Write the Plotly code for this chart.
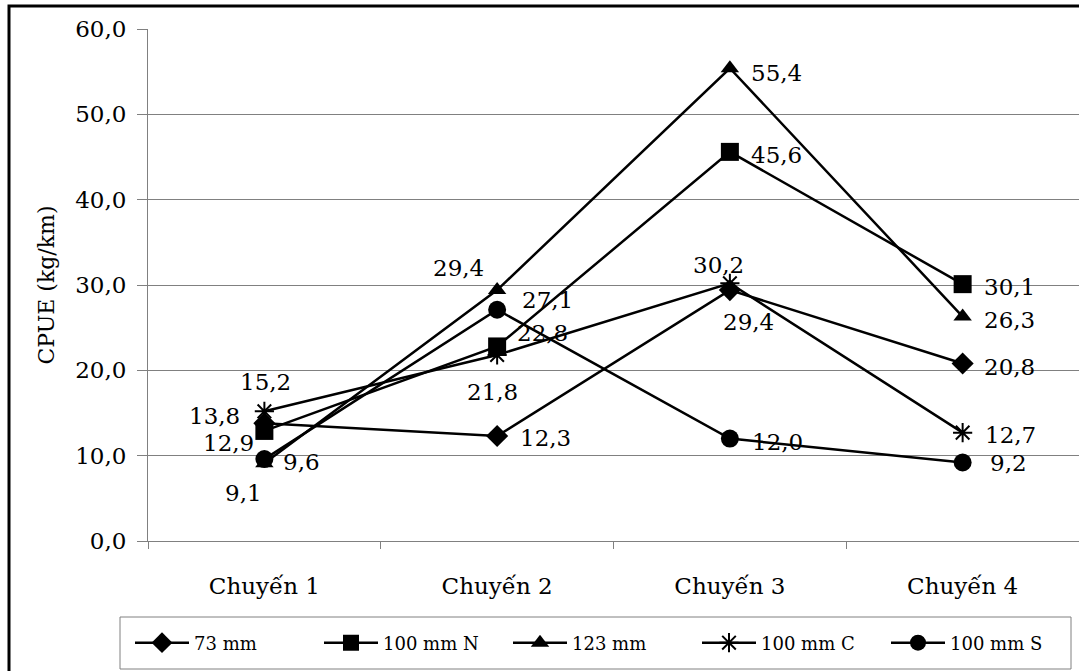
import plotly.graph_objects as go

categories = ["Chuyến 1", "Chuyến 2", "Chuyến 3", "Chuyến 4"]
series_names = ["73 mm", "100 mm N", "123 mm", "100 mm C", "100 mm S"]
v_73 = [13.8, 12.3, 29.4, 20.8]
v_100n = [12.9, 22.8, 45.6, 30.1]
v_123 = [9.1, 29.4, 55.4, 26.3]
v_100c = [15.2, 21.8, 30.2, 12.7]
v_100s = [9.6, 27.1, 12.0, 9.2]
y_ticks = [0, 10, 20, 30, 40, 50, 60]

series_values = [v_73, v_100n, v_123, v_100c, v_100s]
symbols = ["diamond", "square", "triangle-up", "asterisk-open", "circle"]
sizes = [17, 18, 16, 16, 18]
# label offsets from each point (pixels: right, down)
label_offsets = [
    [(-50, -7), (48, 2), (19, 32), (47, 3)],
    [(-36, 12), (45, -13), (47, 3), (47, 3)],
    [(-21, 30), (-39, -22), (47, 5), (47, 3)],
    [(1, -29), (-5, 37), (-11, -18), (48, 2)],
    [(37, 3), (50, -10), (48, 3), (46, 1)],
]

SERIF = "DejaVu Serif"

fig = go.Figure()
annotations = []
for name, vals, sym, sz, offs in zip(series_names, series_values, symbols, sizes, label_offsets):
    fig.add_trace(go.Scatter(
        x=categories, y=vals, name=name, mode="lines+markers",
        line=dict(color="black", width=2.5),
        marker=dict(symbol=sym, size=sz, color="black",
                    line=dict(color="black", width=2 if sym.startswith("asterisk") else 0)),
        cliponaxis=False,
    ))
    for cat, v, (dx, dy) in zip(categories, vals, offs):
        annotations.append(dict(
            x=cat, y=v, xref="x", yref="y", text=f"{v:.1f}".replace(".", ","),
            showarrow=False, xanchor="center", yanchor="middle",
            xshift=dx, yshift=-dy,
            font=dict(family=SERIF, size=23, color="black"),
        ))

L, R, T, B = 148, 0, 29, 130
W, H = 1079, 671
pw, ph = W - L - R, H - T - B


def px_x(px):
    return (px - L) / pw


def px_y(py):
    return (H - B - py) / ph


fig.update_layout(
    width=W, height=H,
    margin=dict(l=L, r=R, t=T, b=B),
    paper_bgcolor="white", plot_bgcolor="white",
    separators=",.",
    font=dict(family=SERIF, color="black"),
    showlegend=True,
    legend=dict(
        orientation="h", x=px_x(130), xanchor="left", y=px_y(643), yanchor="middle",
        borderwidth=0, bgcolor="rgba(0,0,0,0)",
        font=dict(family=SERIF, size=18, color="black"),
        entrywidth=120, entrywidthmode="pixels",
        itemwidth=54,
    ),
    xaxis=dict(
        type="category", range=[-0.5, 3.5],
        showline=True, linecolor="#808080", linewidth=1,
        ticks="outside", tickson="boundaries", ticklen=7, tickcolor="#808080",
        showgrid=False,
        tickfont=dict(family=SERIF, size=23, color="black"),
        ticklabelstandoff=24,
    ),
    yaxis=dict(
        range=[0, 60], tickvals=y_ticks, tickformat=".1f",
        showline=True, linecolor="#808080", linewidth=1,
        ticks="outside", ticklen=10, tickcolor="#808080",
        showgrid=True, gridcolor="#808080", gridwidth=1,
        zeroline=False,
        tickfont=dict(family=SERIF, size=23, color="black"),
        ticklabelstandoff=6,
        title=dict(text="CPUE (kg/km)", font=dict(family=SERIF, size=22, color="black"), standoff=14),
    ),
    annotations=annotations,
    shapes=[
        dict(type="rect", xref="paper", yref="paper",
             x0=px_x(9), x1=px_x(1200), y0=px_y(800), y1=px_y(6),
             line=dict(color="black", width=3), layer="above"),
        dict(type="rect", xref="paper", yref="paper",
             x0=px_x(120), x1=px_x(1071), y0=px_y(669), y1=px_y(617),
             line=dict(color="#808080", width=1), layer="above"),
    ],
)

fig.write_html("out.html")
